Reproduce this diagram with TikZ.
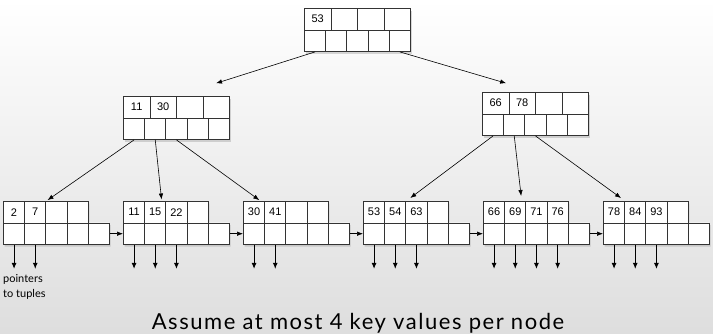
\documentclass[tikz,border=0pt]{standalone}
\usepackage{fontspec}
\setmainfont{Liberation Sans}
\newfontfamily\gillfont{Lato}
\newfontfamily\gillwide{Lato}[LetterSpace=7]
\usetikzlibrary{shadows,arrows.meta,positioning}

\tikzstyle{keybox} = [rectangle, minimum width=26.5pt, minimum height=21.5pt, inner sep=0pt, anchor=north west, draw=black!80, line width=0.9pt, fill=white, font=\fontsize{11}{12}\selectfont]
\tikzstyle{cellbox} = [keybox, minimum width=21.2pt]
\tikzstyle{nodeshadow} = [fill=white, drop shadow={shadow xshift=1.5pt, shadow yshift=-2.5pt, opacity=.3}]
\tikzstyle{arrow} = [line width=0.6pt, -{Latex[length=6pt,width=4.5pt]}]
\tikzstyle{ptrarrow} = [line width=1pt, -{Latex[length=6pt,width=5pt]}]

\begin{document}
\begin{tikzpicture}[x=1pt, y=-1pt]
\shade[top color=white, bottom color=black!13] (0,0) rectangle (713,333);
\useasboundingbox (0,0) rectangle (713,333);

% root and inner nodes
\foreach \name/\x/\y/\keys in {root/304/8/{53,{},{},{}}, inL/123/96/{11,30,{},{}}, inR/482/92/{66,78,{},{}}}
{
\path [nodeshadow] (\x,\y) rectangle ++(106,43);
\foreach \k [count=\i] in \keys
  \node (\name-k\i) [keybox] at ({\x+(\i-1)*26.5},\y) {\k};
\foreach \i in {1,...,5}
  \node (\name-p\i) [cellbox] at ({\x+(\i-1)*21.2},\y+21.5) {};
}

% leaves
\foreach \name/\x/\nk/\keys in {leafA/3/2/{2,7,{},{}}, leafB/123/3/{11,15,22,{}}, leafC/243/2/{30,41,{},{}}, leafD/363/3/{53,54,63,{}}, leafE/483/4/{66,69,71,76}, leafF/603/3/{78,84,93,{}}}
{
\path [nodeshadow] (\x,201) -- ++(84.8,0) -- ++(0,21.5) -- ++(21.2,0) -- ++(0,21.5) -- ++(-106,0) -- cycle;
\foreach \k [count=\i] in \keys
  \node (\name-k\i) [cellbox] at ({\x+(\i-1)*21.2},201) {\k};
\foreach \i in {1,...,5}
  \node (\name-p\i) [cellbox] at ({\x+(\i-1)*21.2},222.5) {};
\foreach \i in {1,...,\nk}
{
  \path (\name-p\i.south) ++(0,24) coordinate (\name-t\i);
  \draw [ptrarrow] (\name-p\i.south) -- (\name-t\i);
}
}

\draw [arrow, shorten >=42pt] (root-p1.south) -- (inL-k3.north west);
\draw [arrow, shorten >=31pt] (root-p5.south) -- (inR-k2.north east);

\draw [arrow, shorten >=1.5pt] (inL-p1.south) -- (leafA-k2.north east);
\draw [arrow, shorten >=1.5pt] (inL-p2.south) -- (leafB-k2.60);
\draw [arrow, shorten >=1.5pt] (inL-p3.south) -- (leafC-k1.60);
\draw [arrow, shorten >=5pt] (inR-p1.south) -- (leafD-k2.north east);
\draw [arrow, shorten >=5pt] (inR-p2.south) -- (leafE-k2.60);
\draw [arrow, shorten >=5pt] (inR-p3.south) -- (leafF-k1.north east);

\foreach \a/\b in {leafA/leafB, leafB/leafC, leafC/leafD, leafD/leafE, leafE/leafF}
  \draw [arrow] (\a-p5.east) -- (\b-p1.west);

\node (ptrtext) [anchor=north west, align=left, inner sep=0pt, font=\gillfont\fontsize{11}{15}\selectfont] at (3,274) {pointers\\to tuples};
\node (caption) [anchor=base, inner sep=0pt, font=\gillwide\fontsize{22}{24}\selectfont] at (358,329) {Assume at most 4 key values per node};
\end{tikzpicture}
\end{document}
